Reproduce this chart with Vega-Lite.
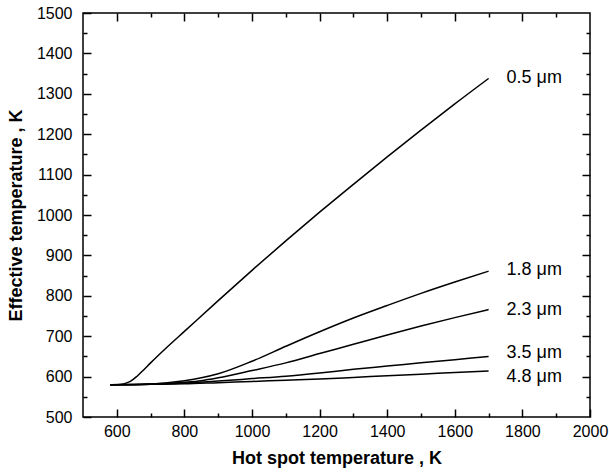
{
  "$schema": "https://vega.github.io/schema/vega-lite/v6.json",
  "width": 507,
  "height": 404,
  "autosize": {"type": "none"},
  "padding": {"left": 83, "top": 13, "right": 19, "bottom": 57},
  "background": "white",
  "config": {
    "view": {"stroke": "black", "strokeWidth": 1.5},
    "font": "Liberation Sans",
    "axis": {
      "domain": false,
      "grid": false,
      "ticks": true,
      "tickColor": "black",
      "tickWidth": 1.5,
      "tickOpacity": 1,
      "labelColor": "black",
      "labelFont": "Liberation Sans",
      "labelFontSize": 16,
      "titleFont": "Liberation Sans",
      "titleFontSize": 18,
      "titleFontWeight": "bold",
      "titleColor": "black",
      "labelOverlap": false,
      "labelFlush": false
    }
  },
  "datasets": {
    "curves": [
      {"wl": "0.5", "t": 580, "eff": 580},
      {"wl": "0.5", "t": 600, "eff": 580},
      {"wl": "0.5", "t": 620, "eff": 582},
      {"wl": "0.5", "t": 640, "eff": 588},
      {"wl": "0.5", "t": 660, "eff": 601},
      {"wl": "0.5", "t": 680, "eff": 617},
      {"wl": "0.5", "t": 700, "eff": 634},
      {"wl": "0.5", "t": 750, "eff": 674},
      {"wl": "0.5", "t": 800, "eff": 712},
      {"wl": "0.5", "t": 900, "eff": 788},
      {"wl": "0.5", "t": 1000, "eff": 863},
      {"wl": "0.5", "t": 1100, "eff": 936},
      {"wl": "0.5", "t": 1200, "eff": 1007},
      {"wl": "0.5", "t": 1300, "eff": 1076},
      {"wl": "0.5", "t": 1400, "eff": 1144},
      {"wl": "0.5", "t": 1500, "eff": 1210},
      {"wl": "0.5", "t": 1600, "eff": 1275},
      {"wl": "0.5", "t": 1700, "eff": 1338},
      {"wl": "1.8", "t": 580, "eff": 580},
      {"wl": "1.8", "t": 650, "eff": 580},
      {"wl": "1.8", "t": 700, "eff": 582},
      {"wl": "1.8", "t": 750, "eff": 585},
      {"wl": "1.8", "t": 800, "eff": 590},
      {"wl": "1.8", "t": 850, "eff": 597},
      {"wl": "1.8", "t": 900, "eff": 607},
      {"wl": "1.8", "t": 1000, "eff": 638},
      {"wl": "1.8", "t": 1100, "eff": 675},
      {"wl": "1.8", "t": 1200, "eff": 711},
      {"wl": "1.8", "t": 1300, "eff": 745},
      {"wl": "1.8", "t": 1400, "eff": 776},
      {"wl": "1.8", "t": 1500, "eff": 806},
      {"wl": "1.8", "t": 1600, "eff": 834},
      {"wl": "1.8", "t": 1700, "eff": 861},
      {"wl": "2.3", "t": 580, "eff": 580},
      {"wl": "2.3", "t": 700, "eff": 581},
      {"wl": "2.3", "t": 800, "eff": 586},
      {"wl": "2.3", "t": 850, "eff": 590},
      {"wl": "2.3", "t": 900, "eff": 597},
      {"wl": "2.3", "t": 1000, "eff": 615},
      {"wl": "2.3", "t": 1100, "eff": 634},
      {"wl": "2.3", "t": 1200, "eff": 657},
      {"wl": "2.3", "t": 1300, "eff": 680},
      {"wl": "2.3", "t": 1400, "eff": 703},
      {"wl": "2.3", "t": 1500, "eff": 725},
      {"wl": "2.3", "t": 1600, "eff": 746},
      {"wl": "2.3", "t": 1700, "eff": 766},
      {"wl": "3.5", "t": 580, "eff": 580},
      {"wl": "3.5", "t": 700, "eff": 581},
      {"wl": "3.5", "t": 800, "eff": 584},
      {"wl": "3.5", "t": 900, "eff": 589},
      {"wl": "3.5", "t": 1000, "eff": 595},
      {"wl": "3.5", "t": 1100, "eff": 601},
      {"wl": "3.5", "t": 1200, "eff": 609},
      {"wl": "3.5", "t": 1300, "eff": 618},
      {"wl": "3.5", "t": 1400, "eff": 626},
      {"wl": "3.5", "t": 1500, "eff": 634},
      {"wl": "3.5", "t": 1600, "eff": 642},
      {"wl": "3.5", "t": 1700, "eff": 650},
      {"wl": "4.8", "t": 580, "eff": 580},
      {"wl": "4.8", "t": 700, "eff": 581},
      {"wl": "4.8", "t": 800, "eff": 582},
      {"wl": "4.8", "t": 900, "eff": 585},
      {"wl": "4.8", "t": 1000, "eff": 588},
      {"wl": "4.8", "t": 1100, "eff": 591},
      {"wl": "4.8", "t": 1200, "eff": 594},
      {"wl": "4.8", "t": 1300, "eff": 598},
      {"wl": "4.8", "t": 1400, "eff": 602},
      {"wl": "4.8", "t": 1500, "eff": 606},
      {"wl": "4.8", "t": 1600, "eff": 610},
      {"wl": "4.8", "t": 1700, "eff": 614}
    ],
    "labels": [
      {"label": "0.5 μm", "t": 1700, "eff": 1339},
      {"label": "1.8 μm", "t": 1700, "eff": 863},
      {"label": "2.3 μm", "t": 1700, "eff": 764},
      {"label": "3.5 μm", "t": 1700, "eff": 658},
      {"label": "4.8 μm", "t": 1700, "eff": 599}
    ]
  },
  "layer": [
    {
      "data": {"name": "curves"},
      "mark": {"type": "line", "color": "black", "strokeWidth": 1.5, "interpolate": "monotone"},
      "encoding": {
        "x": {
          "field": "t", "type": "quantitative",
          "scale": {"domain": [500, 2000], "nice": false, "zero": false},
          "axis": {
            "orient": "bottom",
            "title": "Hot spot temperature , K",
            "values": [600, 800, 1000, 1200, 1400, 1600, 1800, 2000],
            "format": "d",
            "tickSize": 8,
            "offset": -8,
            "labelPadding": 6,
            "titleX": 253.5,
            "titleY": 49,
            "titleAnchor": "middle",
            "titleAlign": "center",
            "titleBaseline": "middle"
          }
        },
        "y": {
          "field": "eff", "type": "quantitative",
          "scale": {"domain": [500, 1500], "nice": false, "zero": false},
          "axis": {
            "orient": "left",
            "title": "Effective temperature , K",
            "values": [500, 600, 700, 800, 900, 1000, 1100, 1200, 1300, 1400, 1500],
            "format": "d",
            "tickSize": 8,
            "offset": -8,
            "labelPadding": 11,
            "titleX": -75,
            "titleY": 202,
            "titleAngle": 270,
            "titleAlign": "center",
            "titleBaseline": "middle"
          }
        },
        "detail": {"field": "wl", "type": "nominal"}
      }
    },
    {
      "data": {"name": "labels"},
      "mark": {"type": "text", "align": "left", "baseline": "middle", "dx": 18, "fontSize": 18, "font": "Liberation Sans", "color": "black"},
      "encoding": {
        "x": {
          "field": "t", "type": "quantitative",
          "axis": {
            "orient": "top",
            "title": null,
            "labels": false,
            "values": [600, 800, 1000, 1200, 1400, 1600, 1800],
            "tickSize": 8,
            "offset": -8
          }
        },
        "y": {
          "field": "eff", "type": "quantitative",
          "axis": {
            "orient": "right",
            "title": null,
            "labels": false,
            "values": [600, 700, 800, 900, 1000, 1100, 1200, 1300, 1400],
            "tickSize": 8,
            "offset": -8
          }
        },
        "text": {"field": "label", "type": "nominal"}
      }
    },
    {
      "data": {"name": "curves"},
      "mark": {"type": "line", "strokeOpacity": 0},
      "encoding": {
        "x": {
          "field": "t", "type": "quantitative",
          "axis": {
            "orient": "bottom",
            "title": null,
            "labels": false,
            "values": [700, 900, 1100, 1300, 1500, 1700, 1900],
            "tickSize": 4,
            "offset": -4
          }
        },
        "y": {
          "field": "eff", "type": "quantitative",
          "axis": {
            "orient": "left",
            "title": null,
            "labels": false,
            "values": [550, 650, 750, 850, 950, 1050, 1150, 1250, 1350, 1450],
            "tickSize": 4,
            "offset": -4
          }
        },
        "detail": {"field": "wl", "type": "nominal"}
      }
    },
    {
      "data": {"name": "curves"},
      "mark": {"type": "line", "strokeOpacity": 0},
      "encoding": {
        "x": {
          "field": "t", "type": "quantitative",
          "axis": {
            "orient": "top",
            "title": null,
            "labels": false,
            "values": [700, 900, 1100, 1300, 1500, 1700, 1900],
            "tickSize": 4,
            "offset": -4
          }
        },
        "y": {
          "field": "eff", "type": "quantitative",
          "axis": {
            "orient": "right",
            "title": null,
            "labels": false,
            "values": [550, 650, 750, 850, 950, 1050, 1150, 1250, 1350, 1450],
            "tickSize": 4,
            "offset": -4
          }
        },
        "detail": {"field": "wl", "type": "nominal"}
      }
    }
  ],
  "resolve": {"axis": {"x": "independent", "y": "independent"}}
}
